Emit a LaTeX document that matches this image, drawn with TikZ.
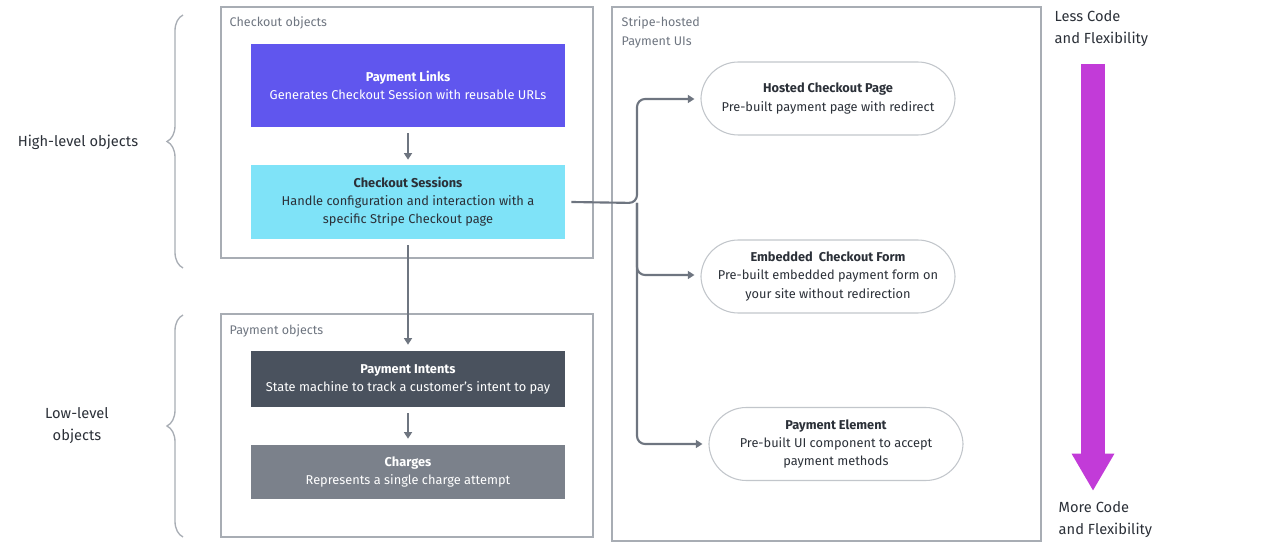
\documentclass[tikz,border=0pt]{standalone}
\usepackage{fontspec}
\setmainfont{Fira Sans}
\usetikzlibrary{arrows.meta,decorations.pathreplacing}
\definecolor{lnk}{HTML}{6056EE}
\definecolor{cs}{HTML}{7FE3F8}
\definecolor{pi}{HTML}{4A525E}
\definecolor{ch}{HTML}{7B818B}
\definecolor{frame}{HTML}{A8ADB4}
\definecolor{conn}{HTML}{6E7580}
\definecolor{mag}{HTML}{C23BD8}
\definecolor{txt}{HTML}{2B3038}
\begin{document}
\begin{tikzpicture}[x=0.75pt,y=-0.75pt,
  frm/.style={draw=frame,line width=1pt},
  obj/.style={draw=none,minimum width=314*0.75pt,align=center,font=\fontsize{9.6}{13.6}\selectfont,inner sep=0pt},
  pill/.style={draw=frame!70,line width=0.8pt,rounded corners=28pt,minimum width=254*0.75pt,minimum height=73*0.75pt,align=center,font=\fontsize{9.6}{13.6}\selectfont,text=txt},
  con/.style={draw=conn,line width=1.6pt,rounded corners=6pt},
  arr/.style={con,-{Triangle[length=5pt,width=6pt]}},
  grp/.style={font=\fontsize{9.4}{14}\selectfont,text=conn,anchor=north west,align=left},
  side/.style={font=\fontsize{11}{16.5}\selectfont,text=txt,align=center},
  brc/.style={draw=frame,line width=1pt,decorate,decoration={brace,amplitude=12pt,mirror}}]
\useasboundingbox (0,0) rectangle (1280,548);
\draw[brc] (183,15) -- (183,268);
\draw[brc] (183,315) -- (183,537);
\node[side] (hl) at (78,142) {High-level objects};
\node[side] (ll) at (77,426) {Low-level\\objects};
\draw[frm] (221,7) rectangle (593,258);
\node[grp] (g1) at (225,12) {Checkout objects};
\draw[frm] (221,314) rectangle (593,537);
\node[grp] (g2) at (225,320) {Payment objects};
\draw[frm] (612,7) rectangle (1041,541);
\node[grp] (g3) at (617,12) {Stripe-hosted\\Payment UIs};
\node[obj,fill=lnk,text=white,minimum height=83*0.75pt] (pl) at (408,85.5) {\textbf{Payment Links}\\Generates Checkout Session with reusable URLs};
\node[obj,fill=cs,text=txt,minimum height=74*0.75pt] (cs) at (408,202) {\textbf{Checkout Sessions}\\Handle configuration and interaction with a\\specific Stripe Checkout page};
\node[obj,fill=pi,text=white,minimum height=56*0.75pt] (pi) at (408,379) {\textbf{Payment Intents}\\State machine to track a customer’s intent to pay};
\node[obj,fill=ch,text=white,minimum height=54*0.75pt] (ch) at (408,472) {\textbf{Charges}\\Represents a single charge attempt};
\draw[arr] ([yshift=-6*0.75pt]pl.south) -- ([yshift=5*0.75pt]cs.north);
\draw[arr] ([yshift=-6*0.75pt]cs.south) -- ([yshift=6*0.75pt]pi.north);
\draw[arr] ([yshift=-6*0.75pt]pi.south) -- ([yshift=6*0.75pt]ch.north);
\node[pill] (hc) at (828,98.5) {\textbf{Hosted Checkout Page}\\Pre-built payment page with redirect};
\node[pill] (ec) at (828,276.5) {\textbf{Embedded\ \ Checkout Form}\\Pre-built embedded payment form on\\your site without redirection};
\node[pill] (pe) at (836,444) {\textbf{Payment Element}\\Pre-built UI component to accept\\payment methods};
\coordinate (jn) at (637,203);
\draw[arr] ([xshift=6*0.75pt]cs.east) -- (jn) |- ([xshift=-6*0.75pt]hc.west |- 0,99);
\draw[arr] (jn) |- ([xshift=-6*0.75pt]ec.west |- 0,275);
\draw[arr] (jn) |- ([xshift=-6*0.75pt]pe.west |- 0,444);
\coordinate (at) at (1093,64);
\coordinate (ab) at (1093,491);
\draw[mag,line width=18pt,-{Triangle[length=28pt,width=30pt]}] (at) -- (ab);
\node[side,anchor=north west,align=left] (lc) at (1050,6) {Less Code\\and Flexibility};
\node[side,anchor=north west,align=left] (mc) at (1054,497) {More Code\\and Flexibility};
\end{tikzpicture}
\end{document}
